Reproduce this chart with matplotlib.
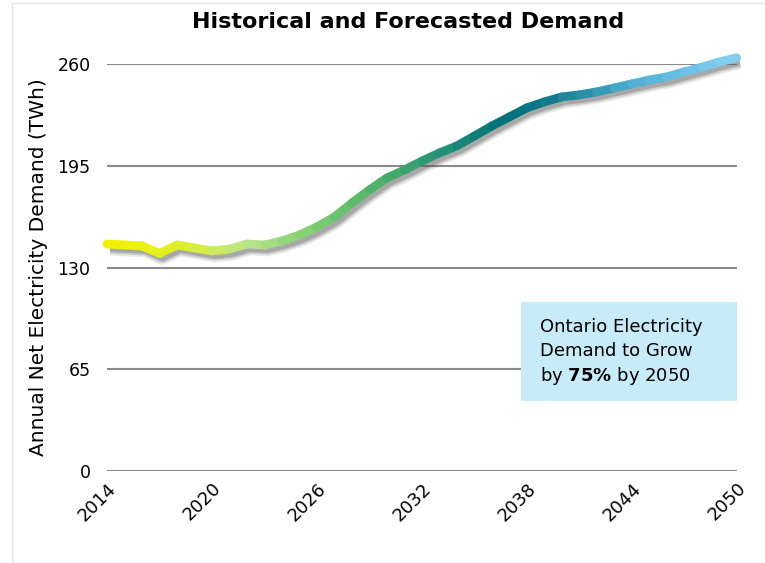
import numpy as np
import matplotlib
matplotlib.use('Agg')
import matplotlib.pyplot as plt
from matplotlib.collections import LineCollection
from matplotlib.colors import LinearSegmentedColormap
import matplotlib.transforms as mtransforms

# annual demand, TWh
years = list(range(2014, 2051))
demand = [145, 144.4, 143.8, 139, 144.4, 142.5, 140.6, 141.8, 145, 144.4,
          147, 150.8, 156, 162.3, 171.2, 179.6, 187.2, 192.3, 198, 203.2,
          207.7, 214, 220.4, 226.2, 232, 235.8, 239, 240.3, 242.2, 244.7,
          247.3, 249.8, 251.8, 255, 258, 261.3, 264]
yticks = [0, 65, 130, 195, 260]
xticks = [2014, 2020, 2026, 2032, 2038, 2044, 2050]

grad = LinearSegmentedColormap.from_list('demand', [
    (0.0, '#f2f200'), (0.12, '#dcee30'), (0.22, '#b9e58e'), (0.33, '#7ccd6e'),
    (0.45, '#45ad6a'), (0.55, '#1f8e7a'), (0.64, '#007078'), (0.72, '#137c8e'),
    (0.85, '#4fb0d2'), (1.0, '#80cdf0')])

fig = plt.figure(figsize=(7.65, 5.63), dpi=100)
ax = fig.add_axes([0.14, 0.1634, 0.823, 0.7229])

for v in yticks:
    ax.axhline(v, color='#8a8a8a', lw=1.5, zorder=1)

# soft drop shadow under the line
for lw, a in [(10, 0.12), (7.5, 0.2), (5, 0.3)]:
    off = mtransforms.offset_copy(ax.transData, fig=fig, x=3, y=-4.5, units='dots')
    ax.plot(years, demand, color='#555555', lw=lw, alpha=a, transform=off,
            solid_capstyle='butt', solid_joinstyle='round', zorder=2, clip_on=False)

pts = np.column_stack([years, demand])
segs = np.stack([pts[:-1], pts[1:]], axis=1)
lc = LineCollection(segs, linewidths=6.3, capstyle='round', joinstyle='round',
                    zorder=3, clip_on=False)
lc.set_color(grad(np.linspace(0, 1, len(segs))))
ax.add_collection(lc)

ax.set_xlim(2014, 2050)
ax.set_ylim(0, 260)
for s in ax.spines.values():
    s.set_visible(False)
ax.tick_params(length=0, labelsize=12.5)
ax.set_yticks(yticks)
ax.set_xticks(xticks)
ax.set_xticklabels([str(x) for x in xticks], rotation=45, ha='right', va='top',
                   rotation_mode='anchor', fontsize=13)
ax.tick_params(axis='x', pad=6)
ax.tick_params(axis='y', pad=12)
ax.set_ylabel('Annual Net Electricity Demand (TWh)', fontsize=14.5, labelpad=7)

fig.text(0.533, 0.961, 'Historical and Forecasted Demand', ha='center', va='center',
         fontsize=16, fontweight='bold')

# callout box
ax.add_patch(plt.Rectangle((2037.66, 44.7), 2050 - 2037.66, 108 - 44.7,
                           facecolor='#c8ebfa', edgecolor='none', zorder=4))
fam = ['DejaVu Sans Condensed', 'DejaVu Sans']
ax.text(2038.75, 92, 'Ontario Electricity', fontsize=13, family=fam, va='center', zorder=5)
ax.text(2038.75, 76.5, 'Demand to Grow', fontsize=13, family=fam, va='center', zorder=5)
ax.text(2038.75, 61, r'by $\mathbf{75\%}$ by 2050', fontsize=13, family=fam, va='center', zorder=5)

# faint frame around the figure
fig.add_artist(plt.Rectangle((12 / 765, 0.0), 1, 1 - 3 / 563, transform=fig.transFigure,
                             fill=False, edgecolor='#e4e4e4', lw=1))

fig.savefig('out.png', dpi=100)
